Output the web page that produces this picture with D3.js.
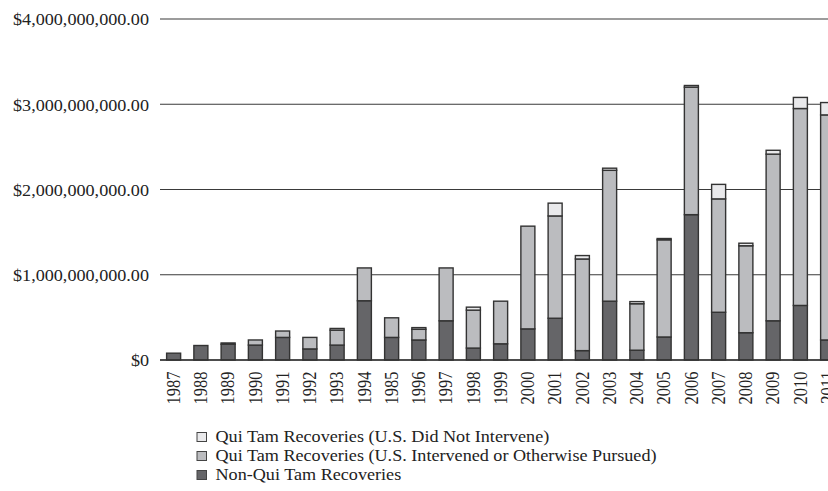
<!DOCTYPE html>
<html>
<head>
<meta charset="utf-8">
<script src="https://cdn.jsdelivr.net/npm/d3@7"></script>
<style>
  html, body { margin: 0; padding: 0; background: #fff; }
  svg { display: block; }
  text { font-family: "Liberation Serif", "DejaVu Serif", serif; fill: #222; }
</style>
</head>
<body>
<svg id="chart" width="828" height="491"></svg>
<script>
// ---- data (values in millions of dollars) ----
const years = ["1987","1988","1989","1990","1991","1992","1993","1994","1985","1996","1997","1998","1999",
               "2000","2001","2002","2003","2004","2005","2006","2007","2008","2009","2010","2011"];
const nonQuiTam = [80,170,185,175,265,130,175,695,265,235,460,140,190,
                   365,490,110,690,115,270,1705,560,320,460,640,235];
const quiTamIntervened = [0,0,15,60,75,135,175,385,230,125,620,445,500,
                   1205,1200,1075,1535,545,1140,1495,1330,1020,1955,2310,2640];
const quiTamNotIntervened = [0,0,0,0,0,0,20,0,0,20,0,35,0,
                   0,150,40,25,25,15,20,170,30,45,130,145];
const yTickValues = [0,1000,2000,3000,4000];
const yTickLabels = ["$0","$1,000,000,000.00","$2,000,000,000.00","$3,000,000,000.00","$4,000,000,000.00"];
const seriesNames = ["Qui Tam Recoveries (U.S. Did Not Intervene)",
                     "Qui Tam Recoveries (U.S. Intervened or Otherwise Pursued)",
                     "Non-Qui Tam Recoveries"];

// ---- styling ----
const colors = { nonQuiTam: "#656568", quiTamIntervened: "#bbbcbf", quiTamNotIntervened: "#e9e9eb" };
const SX = 1.1; // horizontal stretch of the glyphs in the reference
const FS = 16.5;

const svg = d3.select("#chart");
const x = d3.scaleBand().domain(years).range([160, 160 + 25 * 27.25])
  .paddingInner(0.486).paddingOuter(0.243);
const y = d3.scaleLinear().domain([0, 4000]).range([360, 19]);

// gridlines
svg.append("g").selectAll("line").data(yTickValues).join("line")
  .attr("x1", 160).attr("x2", 828)
  .attr("y1", d => y(d)).attr("y2", d => y(d))
  .attr("stroke", "#3a3a3a").attr("stroke-width", 1.2);

// y axis labels
const yAxis = d3.axisLeft(y).tickValues(yTickValues).tickSize(0)
  .tickFormat((d, i) => yTickLabels[i]);
const gy = svg.append("g").attr("transform", "translate(160,0)").call(yAxis);
gy.select(".domain").remove();
gy.selectAll("text")
  .attr("x", -11 / SX).attr("dy", "0.35em")
  .attr("transform", `scale(${SX},1)`)
  .style("font-size", FS + "px").style("font-family", "Liberation Serif, serif").attr("fill", "#222");

// stacked data
const rows = years.map((yr, i) => ({
  year: yr, nonQuiTam: nonQuiTam[i], quiTamIntervened: quiTamIntervened[i], quiTamNotIntervened: quiTamNotIntervened[i]
}));
const keys = ["nonQuiTam", "quiTamIntervened", "quiTamNotIntervened"];
const stack = d3.stack().keys(keys)(rows);

svg.append("g").selectAll("g").data(stack).join("g")
  .attr("fill", d => colors[d.key])
  .selectAll("rect").data(d => d.filter(s => s[1] - s[0] > 0)).join("rect")
  .attr("x", d => x(d.data.year))
  .attr("width", x.bandwidth())
  .attr("y", d => y(d[1]))
  .attr("height", d => y(d[0]) - y(d[1]))
  .attr("stroke", "#333").attr("stroke-width", 1.4);

// x axis (year labels)
const xAxis = d3.axisBottom(x).tickSize(0);
const gx = svg.append("g").attr("transform", "translate(0,360)").call(xAxis);
gx.select(".domain").remove();
gx.selectAll("text")
  .attr("y", 0).attr("x", 0).attr("dy", null)
  .attr("transform", `scale(${SX},1) rotate(-90) translate(-11.5, ${0.35 * FS})`)
  .attr("text-anchor", "end")
  .style("font-size", FS + "px").style("font-family", "Liberation Serif, serif").attr("fill", "#222");

// redraw baseline on top
svg.append("line").attr("x1", 160).attr("x2", 828).attr("y1", y(0)).attr("y2", y(0))
  .attr("stroke", "#333").attr("stroke-width", 1.3);

// legend
const legendKeys = ["quiTamNotIntervened", "quiTamIntervened", "nonQuiTam"];
const lg = svg.append("g").selectAll("g").data(legendKeys).join("g")
  .attr("transform", (d, i) => `translate(197, ${437 + i * 19})`);
lg.append("rect").attr("x", 0).attr("y", -4.5).attr("width", 9.5).attr("height", 9)
  .attr("fill", d => colors[d]).attr("stroke", "#444").attr("stroke-width", 1);
lg.append("text").attr("x", 18.5 / SX).attr("y", 0).attr("dy", "0.3em")
  .attr("transform", `scale(${SX},1)`)
  .style("font-size", FS + "px")
  .text((d, i) => seriesNames[i]);
</script>
</body>
</html>
